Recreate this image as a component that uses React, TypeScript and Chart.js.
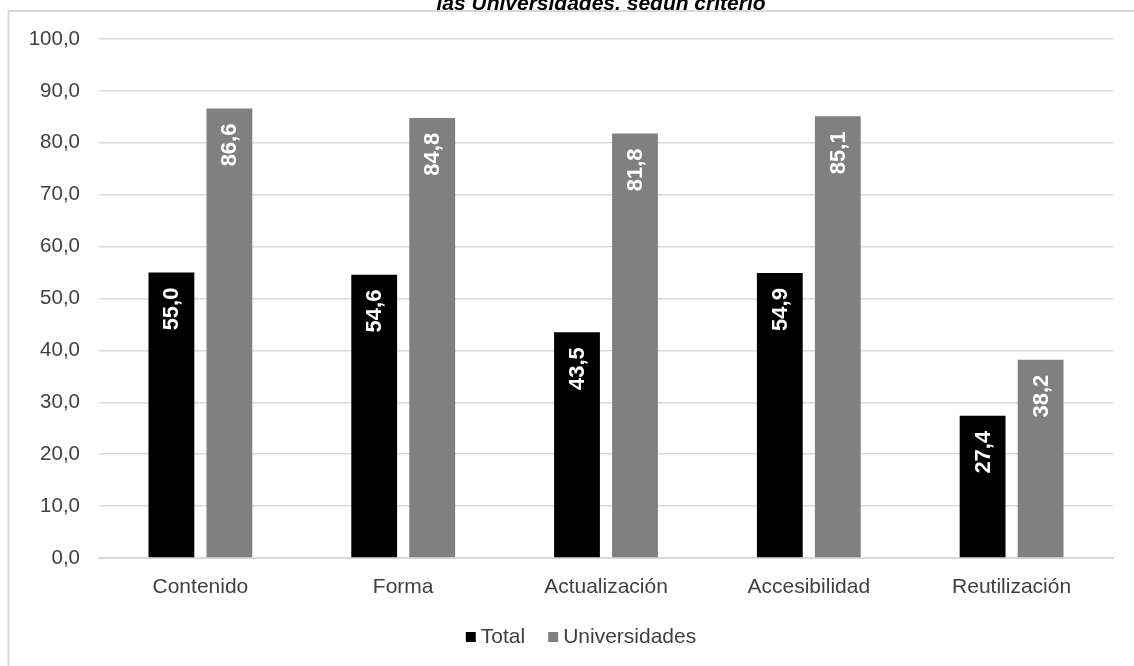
import React, { useEffect, useRef } from 'react';
import { Chart, registerables } from 'chart.js';

Chart.register(...registerables);

const titleText = 'las Universidades, según criterio';
const categories = ['Contenido', 'Forma', 'Actualización', 'Accesibilidad', 'Reutilización'];
const seriesLabels = ['Total', 'Universidades'];
const totalValues = [55.0, 54.6, 43.5, 54.9, 27.4];
const univValues = [86.6, 84.8, 81.8, 85.1, 38.2];
const seriesColors = ['#000000', '#808080'];
const yMin = 0;
const yMax = 100;
const yStep = 10;

const FONT = '"Liberation Sans", Arial, sans-serif';
const TEXT_COLOR = '#404040';
const GRID_COLOR = '#d9d9d9';

const fmt = (v: number) => v.toFixed(1).replace('.', ',');

const framePlugin = {
  id: 'frame',
  beforeDraw(chart: any) {
    const ctx = chart.ctx;
    ctx.save();
    ctx.fillStyle = '#ffffff';
    ctx.fillRect(0, 0, chart.width, chart.height);
    // title (partly hidden behind the chart box)
    ctx.save();
    ctx.beginPath();
    ctx.rect(0, 0, chart.width, 10);
    ctx.clip();
    ctx.fillStyle = '#000000';
    ctx.font = `italic bold 21px ${FONT}`;
    ctx.textAlign = 'center';
    ctx.textBaseline = 'alphabetic';
    ctx.fillText(titleText, 601, 10);
    ctx.restore();
    ctx.strokeStyle = GRID_COLOR;
    ctx.lineWidth = 2;
    ctx.beginPath();
    ctx.moveTo(8.5, chart.height);
    ctx.lineTo(8.5, 11);
    ctx.lineTo(chart.width, 11);
    ctx.stroke();
    ctx.restore();
  },
};

const labelsPlugin = {
  id: 'barLabels',
  afterDatasetsDraw(chart: any) {
    const ctx = chart.ctx;
    ctx.save();
    ctx.fillStyle = '#ffffff';
    ctx.font = `bold 22px ${FONT}`;
    ctx.textAlign = 'right';
    ctx.textBaseline = 'middle';
    chart.data.datasets.forEach((ds: any, di: number) => {
      const meta = chart.getDatasetMeta(di);
      meta.data.forEach((bar: any, i: number) => {
        const v = ds.data[i];
        ctx.save();
        ctx.translate(bar.x + 1, bar.y + 15);
        ctx.rotate(-Math.PI / 2);
        ctx.fillText(fmt(v), 0, 0);
        ctx.restore();
      });
    });
    ctx.restore();
  },
};

const legendPlugin = {
  id: 'customLegend',
  afterDraw(chart: any) {
    const ctx = chart.ctx;
    ctx.save();
    ctx.font = `21px ${FONT}`;
    const box = 10;
    const gapText = 5;
    const gapItem = 23;
    const items = chart.data.datasets.map((ds: any) => ({
      label: ds.label,
      color: ds.backgroundColor,
      w: ctx.measureText(ds.label).width,
    }));
    let total = 0;
    items.forEach((it: any, i: number) => {
      total += box + gapText + it.w + (i < items.length - 1 ? gapItem : 0);
    });
    let x = 581 - total / 2;
    const cy = 637;
    ctx.textBaseline = 'middle';
    ctx.textAlign = 'left';
    items.forEach((it: any) => {
      ctx.fillStyle = it.color;
      ctx.fillRect(x, cy - box / 2, box, box);
      x += box + gapText;
      ctx.fillStyle = TEXT_COLOR;
      ctx.fillText(it.label, x, cy);
      x += it.w + gapItem;
    });
    ctx.restore();
  },
};

export default function App() {
  const ref = useRef<HTMLCanvasElement | null>(null);

  useEffect(() => {
    if (!ref.current) return;
    const chart = new Chart(ref.current, {
      type: 'bar',
      data: {
        labels: categories,
        datasets: [
          {
            label: seriesLabels[0],
            data: totalValues,
            backgroundColor: seriesColors[0],
            categoryPercentage: 0.572,
            barPercentage: 0.79,
          },
          {
            label: seriesLabels[1],
            data: univValues,
            backgroundColor: seriesColors[1],
            categoryPercentage: 0.572,
            barPercentage: 0.79,
          },
        ],
      },
      options: {
        animation: false,
        responsive: false,
        devicePixelRatio: 1,
        layout: { padding: { left: 0, right: 21, top: 39, bottom: 0 } },
        plugins: {
          legend: { display: false },
          title: { display: false },
          tooltip: { enabled: false },
        },
        scales: {
          x: {
            grid: { display: false, drawTicks: false },
            border: { display: true, color: GRID_COLOR, width: 2 },
            ticks: {
              color: TEXT_COLOR,
              font: { family: FONT, size: 21 },
              padding: 17,
              maxRotation: 0,
            },
            afterFit(scale: any) {
              scale.height = 108;
            },
          },
          y: {
            min: yMin,
            max: yMax,
            grid: { color: GRID_COLOR, lineWidth: 1.5, drawTicks: false },
            border: { display: false },
            ticks: {
              stepSize: yStep,
              color: TEXT_COLOR,
              font: { family: FONT, size: 20.5 },
              padding: 19,
              callback: (v: any) => fmt(Number(v)),
            },
            afterFit(scale: any) {
              scale.width = 99;
            },
          },
        },
      },
      plugins: [framePlugin, labelsPlugin, legendPlugin],
    });
    return () => chart.destroy();
  }, []);

  return (
    <div style={{ position: 'fixed', left: 0, top: 0, width: 1134, height: 666, background: '#fff' }}>
      <canvas ref={ref} width={1134} height={666} style={{ display: 'block', width: 1134, height: 666 }} />
    </div>
  );
}
